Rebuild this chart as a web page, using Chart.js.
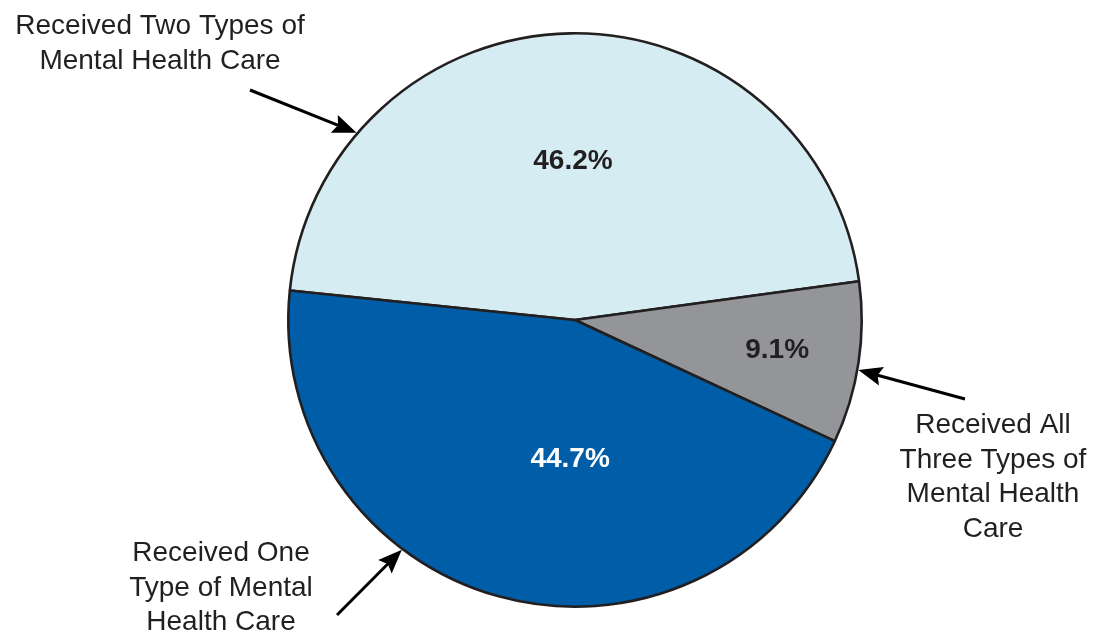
<!DOCTYPE html>
<html>
<head>
<meta charset="utf-8">
<title>Types of Mental Health Care Received</title>
<script src="https://cdn.jsdelivr.net/npm/chart.js@4.4.1/dist/chart.umd.min.js"></script>
<style>
  html, body { margin: 0; padding: 0; background: #ffffff; }
  #wrap { width: 1095px; height: 642px; position: relative; }
</style>
</head>
<body>
<div id="wrap"><canvas id="careChart" width="1095" height="642"></canvas></div>
<script>
// Share of people by how many types of mental health care they received
const categories = [
    "Received Two Types of Mental Health Care",
    "Received All Three Types of Mental Health Care",
    "Received One Type of Mental Health Care"
];
const shares = [46.2, 9.1, 44.7];
const sliceColors = ["#d5edf2", "#939598", "#005da8"];
const valueColors = ["#231f20", "#231f20", "#ffffff"];

// Callout text, one array of lines per slice
const calloutLines = [
    ["Received Two Types of", "Mental Health Care"],
    ["Received All", "Three Types of", "Mental Health", "Care"],
    ["Received One", "Type of Mental", "Health Care"]
];

const ink = "#231f20";
const font = "'Liberation Sans', Arial, Helvetica, sans-serif";

// Where the callouts sit: text block (centre x, first baseline),
// arrow tip angle on the rim (deg) and arrow tail
const callouts = [
    { x: 160, y: 34, tipAngle: 220.6, tail: [250, 90] },
    { x: 993, y: 433, tipAngle: 10.0, tail: [965, 399] },
    { x: 221, y: 561, tipAngle: 127.0, tail: [337, 615] }
];
// Offsets of the value labels from the pie centre, as a share of the radius
const valueOffsets = [[-0.007, -0.552], [0.705, 0.104], [-0.017, 0.486]];

function drawArrow(ctx, x1, y1, x2, y2) {
    const ang = Math.atan2(y2 - y1, x2 - x1);
    const head = 24, half = 9.5;
    const bx = x2 - head * Math.cos(ang), by = y2 - head * Math.sin(ang);
    ctx.beginPath();
    ctx.moveTo(x1, y1);
    ctx.lineTo(bx + 5 * Math.cos(ang), by + 5 * Math.sin(ang));
    ctx.lineWidth = 3;
    ctx.strokeStyle = "#000";
    ctx.stroke();
    ctx.beginPath();
    ctx.moveTo(x2, y2);
    ctx.lineTo(bx - half * Math.sin(ang), by + half * Math.cos(ang));
    ctx.lineTo(bx + 4 * Math.cos(ang), by + 4 * Math.sin(ang));
    ctx.lineTo(bx + half * Math.sin(ang), by - half * Math.cos(ang));
    ctx.closePath();
    ctx.fillStyle = "#000";
    ctx.fill();
}

const labelPlugin = {
    id: "pieLabels",
    afterDraw(chart) {
        const ctx = chart.ctx;
        const arcs = chart.getDatasetMeta(0).data;
        const cx = arcs[0].x, cy = arcs[0].y, r = arcs[0].outerRadius;
        ctx.save();

        // value labels inside the slices
        ctx.font = "bold 28px " + font;
        ctx.textAlign = "center";
        ctx.textBaseline = "middle";
        shares.forEach((v, i) => {
            ctx.fillStyle = valueColors[i];
            ctx.fillText(v.toFixed(1) + "%", cx + valueOffsets[i][0] * r, cy + valueOffsets[i][1] * r);
        });

        // callout text and arrows
        ctx.font = "28px " + font;
        ctx.textBaseline = "alphabetic";
        callouts.forEach((c, i) => {
            calloutLines[i].forEach((line, j) => {
                ctx.fillStyle = ink;
                ctx.fillText(line, c.x, c.y + j * 34.5);
            });
            const a = c.tipAngle * Math.PI / 180;
            drawArrow(ctx, c.tail[0], c.tail[1], cx + (r + 1) * Math.cos(a), cy + (r + 1) * Math.sin(a));
        });
        ctx.restore();
    }
};

const ctx = document.getElementById("careChart").getContext("2d");
new Chart(ctx, {
    type: "pie",
    data: {
        labels: categories,
        datasets: [{
            data: shares,
            backgroundColor: sliceColors,
            borderColor: ink,
            borderWidth: 2.6,
            hoverOffset: 0
        }]
    },
    options: {
        responsive: false,
        animation: false,
        rotation: 275.9,
        layout: { padding: { left: 287, right: 232, top: 32, bottom: 34 } },
        plugins: {
            legend: { display: false },
            tooltip: { enabled: false }
        }
    },
    plugins: [labelPlugin]
});
</script>
</body>
</html>
